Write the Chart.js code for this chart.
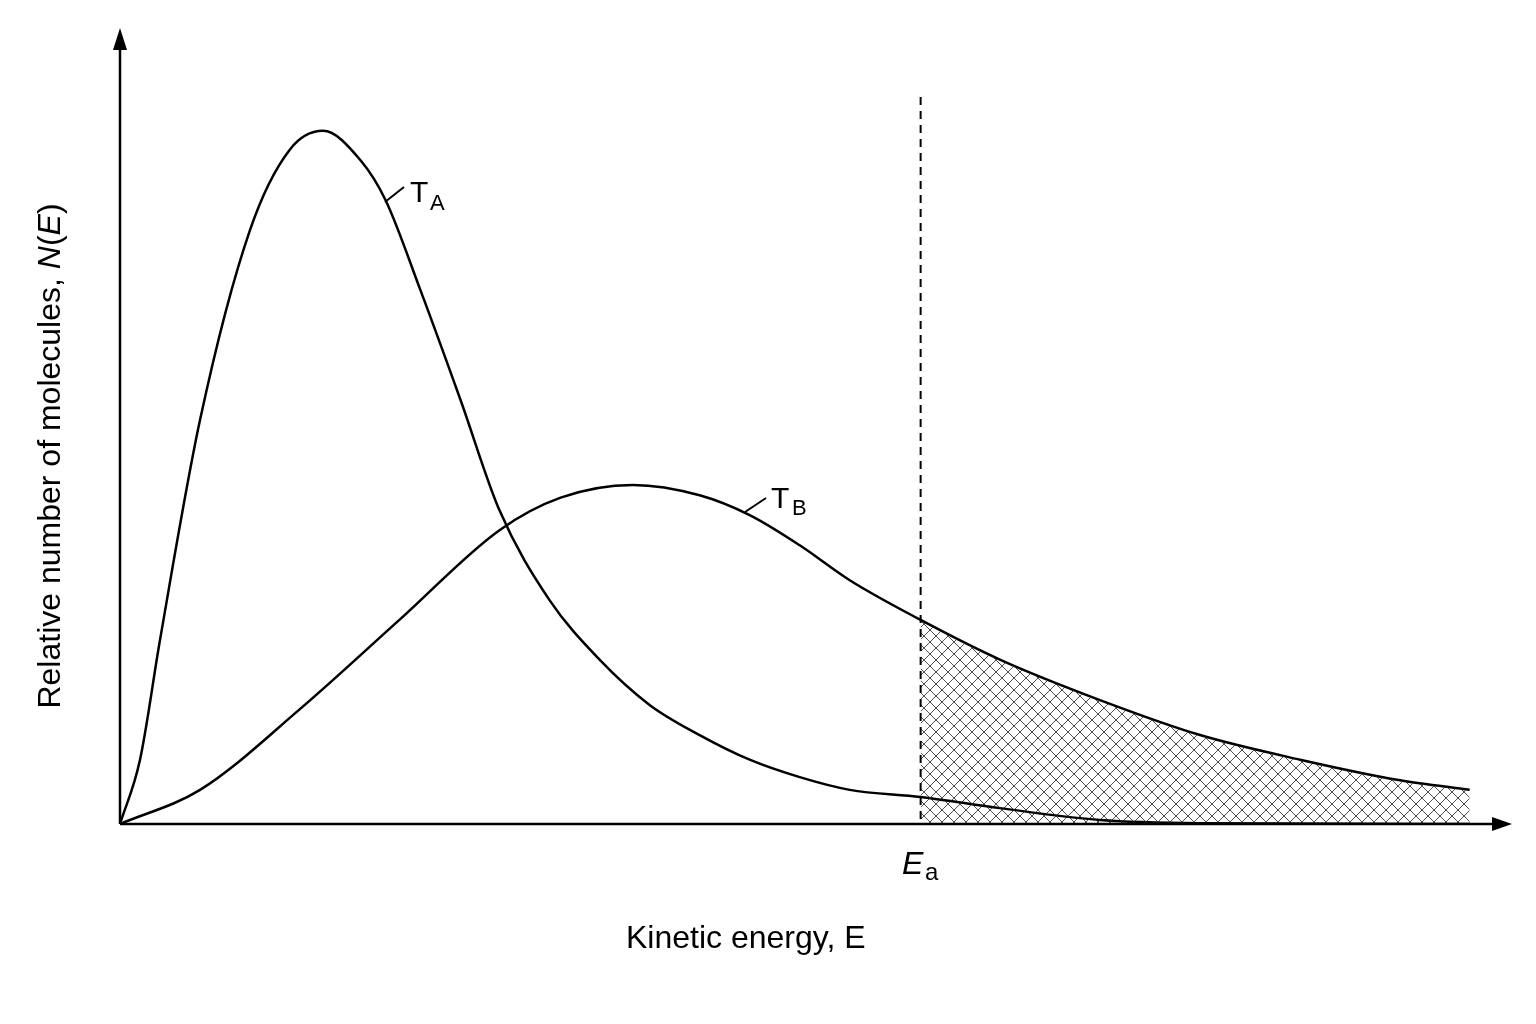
<!DOCTYPE html>
<html>
<head>
<meta charset="utf-8">
<script src="https://cdn.jsdelivr.net/npm/chart.js@4"></script>
<style>html,body{margin:0;background:#fff}</style>
</head>
<body>
<canvas id="c" width="1536" height="1024"></canvas>
<script>
// energy (arbitrary units) and relative counts
const energyA = [0, 1.44, 2.88, 5.76, 9.35, 12.2, 14.6, 17.3, 19.1, 21.6, 24.5, 27.3, 30.9, 34.5, 38.1, 41.7, 45.3, 48.9, 52.5, 57.6, 63.3, 70.5, 77.7, 97.1];
const countA  = [0, 8.1, 23.2, 50.9, 74.8, 84.9, 87.3, 83.6, 78.6, 67.3, 53.4, 39.5, 28.2, 20.7, 15.0, 11.2, 8.1, 5.9, 4.3, 3.4, 2.0, 0.5, 0.1, 0];
const energyB = [0, 5.76, 12.9, 20.1, 27.3, 31.7, 36.9, 41.7, 45.3, 48.9, 52.5, 57.6, 63.3, 70.5, 77.7, 84.9, 92.1, 97.1];
const countB  = [0, 4.3, 14.4, 25.7, 37.0, 41.1, 42.7, 41.4, 38.9, 35.1, 30.7, 25.7, 20.7, 15.6, 11.2, 8.1, 5.5, 4.3];
const activationEnergy = 57.6;

const pts = (xs, ys) => xs.map((x, i) => ({ x, y: ys[i] }));
const tail = pts(energyB, countB).filter(p => p.x >= activationEnergy);

function hatchPattern() {
  const p = document.createElement('canvas');
  p.width = 12; p.height = 12;
  const g = p.getContext('2d');
  g.strokeStyle = '#222'; g.lineWidth = 0.8;
  g.beginPath();
  g.moveTo(0, 12); g.lineTo(12, 0);
  g.moveTo(0, 0); g.lineTo(12, 12);
  g.stroke();
  return g.createPattern(p, 'repeat');
}

const font = '"Liberation Sans", Arial, sans-serif';

const decor = {
  id: 'decor',
  afterDraw(chart) {
    const { ctx, scales: { x, y } } = chart;
    const ox = x.getPixelForValue(0), oy = y.getPixelForValue(0);
    ctx.save();
    ctx.strokeStyle = '#000'; ctx.fillStyle = '#000'; ctx.lineWidth = 2.5;
    // axes with arrowheads
    ctx.beginPath(); ctx.moveTo(ox, oy); ctx.lineTo(1500, oy); ctx.moveTo(ox, oy); ctx.lineTo(ox, 40); ctx.stroke();
    ctx.beginPath(); ctx.moveTo(1512, oy); ctx.lineTo(1492, oy - 7); ctx.lineTo(1492, oy + 7); ctx.closePath(); ctx.fill();
    ctx.beginPath(); ctx.moveTo(ox, 28); ctx.lineTo(ox - 7, 50); ctx.lineTo(ox + 7, 50); ctx.closePath(); ctx.fill();
    // dashed Ea line
    const ex = x.getPixelForValue(activationEnergy);
    ctx.lineWidth = 2; ctx.setLineDash([8, 6]);
    ctx.beginPath(); ctx.moveTo(ex, 97); ctx.lineTo(ex, oy); ctx.stroke();
    ctx.setLineDash([]);
    // leader lines
    ctx.lineWidth = 2;
    ctx.beginPath(); ctx.moveTo(385, 202); ctx.lineTo(404, 187); ctx.moveTo(745, 512); ctx.lineTo(766, 498); ctx.stroke();
    // labels
    ctx.textBaseline = 'alphabetic';
    ctx.font = '30px ' + font; ctx.textAlign = 'left';
    ctx.fillText('T', 410, 202); ctx.font = '22px ' + font; ctx.fillText('A', 430, 210);
    ctx.font = '30px ' + font; ctx.fillText('T', 771, 508); ctx.font = '22px ' + font; ctx.fillText('B', 792, 515);
    ctx.font = 'italic 32px ' + font; ctx.fillText('E', 902, 874);
    ctx.font = '24px ' + font; ctx.fillText('a', 925, 880);
    // x title
    ctx.font = '32px ' + font;
    const t1 = 'Kinetic energy, ';
    ctx.fillText(t1, 626, 948);
    ctx.font = 'italic 32px ' + font;
    ctx.fillText('E', 626 + (ctx.font = '32px ' + font, ctx.measureText(t1).width), 948);
    // y title
    ctx.translate(60, 456); ctx.rotate(-Math.PI / 2);
    ctx.textAlign = 'left';
    const parts = [['Relative number of molecules, ', ''], ['N', 'italic '], ['(', ''], ['E', 'italic '], [')', '']];
    let w = 0;
    parts.forEach(([s, st]) => { ctx.font = st + '32px ' + font; w += ctx.measureText(s).width; });
    let cx = -w / 2;
    parts.forEach(([s, st]) => { ctx.font = st + '32px ' + font; ctx.fillText(s, cx, 0); cx += ctx.measureText(s).width; });
    ctx.restore();
  }
};

new Chart(document.getElementById('c'), {
  type: 'scatter',
  data: {
    datasets: [
      { data: tail, showLine: true, borderWidth: 0, pointRadius: 0, fill: 'origin', backgroundColor: hatchPattern(), tension: 0.4 },
      { data: pts(energyA, countA), showLine: true, borderColor: '#000', borderWidth: 2.5, pointRadius: 0, fill: false, cubicInterpolationMode: 'monotone' },
      { data: pts(energyB, countB), showLine: true, borderColor: '#000', borderWidth: 2.5, pointRadius: 0, fill: false, cubicInterpolationMode: 'monotone' }
    ]
  },
  options: {
    responsive: false, animation: false,
    layout: { padding: { left: 120, right: 26, top: 30, bottom: 200 } },
    plugins: { legend: { display: false }, tooltip: { enabled: false } },
    scales: {
      x: { type: 'linear', min: 0, max: 100, display: false },
      y: { type: 'linear', min: 0, max: 100, display: false }
    }
  },
  plugins: [decor]
});
</script>
</body>
</html>
